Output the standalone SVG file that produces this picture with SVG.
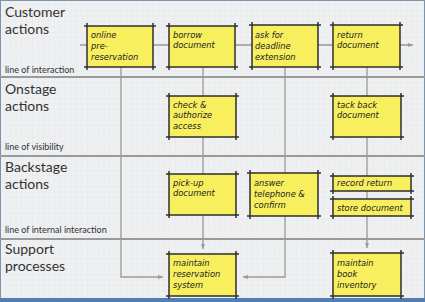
<svg xmlns="http://www.w3.org/2000/svg" width="425" height="302" viewBox="0 0 425 302">
<style>
.lane{font-family:Lato,"Open Sans","Liberation Sans",sans-serif;font-size:14px;fill:#333}
.small{font-family:Lato,"Open Sans","Liberation Sans",sans-serif;font-size:9px;fill:#333}
.sep{stroke:#9a9a9a;stroke-width:2}
.conn{stroke:#9a9a9a;stroke-width:1.3;fill:none}
.box{fill:#f7ef5e;stroke:none}
.edge{stroke:#2f2f2f;stroke-width:1.5;fill:none}
.t{font-family:"DejaVu Sans","Liberation Sans",sans-serif;font-style:italic;font-size:8.3px;fill:#222}
</style>
<defs>
<pattern id="grid" width="5.5" height="5.5" patternUnits="userSpaceOnUse">
<rect width="5.5" height="5.5" fill="#eef0f2"/>
<path d="M5.5 0V5.5M0 5.5H5.5" stroke="#e0e3e7" stroke-width="0.6"/>
</pattern>
<marker id="arr" markerWidth="6" markerHeight="6" refX="5" refY="3" orient="auto" markerUnits="userSpaceOnUse">
<path d="M0 1L5 3L0 5Z" fill="#9a9a9a"/>
</marker>
</defs>
<rect width="425" height="302" fill="url(#grid)"/>
<rect x="0.5" y="0.5" width="424" height="301" fill="none" stroke="#7d93aa" stroke-width="1"/>
<rect x="0" y="298" width="425" height="4" fill="#4f7fb5"/>

<g id="lanes">
<line class="sep" x1="0" y1="77" x2="425" y2="77"/>
<line class="sep" x1="0" y1="156" x2="425" y2="156"/>
<line class="sep" x1="0" y1="239" x2="425" y2="239"/>
<text class="lane" x="5" y="17">Customer</text>
<text class="lane" x="5" y="34">actions</text>
<text class="small" x="5" y="73">line of interaction</text>
<text class="lane" x="5" y="94">Onstage</text>
<text class="lane" x="5" y="111">actions</text>
<text class="small" x="5" y="150">line of visibility</text>
<text class="lane" x="5" y="172">Backstage</text>
<text class="lane" x="5" y="189">actions</text>
<text class="small" x="5" y="233">line of internal interaction</text>
<text class="lane" x="5" y="254">Support</text>
<text class="lane" x="5" y="271">processes</text>
</g>

<g id="connectors">
<line class="conn" x1="80" y1="45" x2="413" y2="45" marker-end="url(#arr)"/>
<path class="conn" d="M121 67V277H163" marker-end="url(#arr)"/>
<path class="conn" d="M203 67V249" marker-end="url(#arr)"/>
<path class="conn" d="M285 67V277H243" marker-end="url(#arr)"/>
<path class="conn" d="M367 67V248" marker-end="url(#arr)"/>
</g>

<g id="online-pre-reservation">
<rect class="box" x="87" y="26" width="66" height="41"/>
<path class="edge" d="M84 26H156M84 67H156M87 23V70M153 23V70"/>
<text class="t" x="91" y="38">online</text>
<text class="t" x="91" y="49">pre-</text>
<text class="t" x="91" y="60">reservation</text>
</g>
<g id="borrow-document">
<rect class="box" x="169" y="26" width="66" height="41"/>
<path class="edge" d="M166 26H238M166 67H238M169 23V70M235 23V70"/>
<text class="t" x="173" y="38">borrow</text>
<text class="t" x="173" y="48">document</text>
</g>
<g id="ask-for-deadline-extension">
<rect class="box" x="252" y="25" width="66" height="42"/>
<path class="edge" d="M249 25H321M249 67H321M252 22V70M318 22V70"/>
<text class="t" x="255" y="38">ask for</text>
<text class="t" x="255" y="49">deadline</text>
<text class="t" x="255" y="60">extension</text>
</g>
<g id="return-document">
<rect class="box" x="333" y="25" width="67" height="42"/>
<path class="edge" d="M330 25H403M330 67H403M333 22V70M400 22V70"/>
<text class="t" x="337" y="38">return</text>
<text class="t" x="337" y="48">document</text>
</g>

<g id="check-authorize-access">
<rect class="box" x="169" y="96" width="67" height="41"/>
<path class="edge" d="M166 96H239M166 137H239M169 93V140M236 93V140"/>
<text class="t" x="173" y="108">check &amp;</text>
<text class="t" x="173" y="118">authorize</text>
<text class="t" x="173" y="129">access</text>
</g>
<g id="take-back-document">
<rect class="box" x="333" y="96" width="68" height="41"/>
<path class="edge" d="M330 96H404M330 137H404M333 93V140M401 93V140"/>
<text class="t" x="337" y="108">tack back</text>
<text class="t" x="337" y="118">document</text>
</g>

<g id="pick-up-document">
<rect class="box" x="169" y="174" width="67" height="41"/>
<path class="edge" d="M166 174H239M166 215H239M169 171V218M236 171V218"/>
<text class="t" x="173" y="186">pick-up</text>
<text class="t" x="173" y="196">document</text>
</g>
<g id="answer-telephone-confirm">
<rect class="box" x="250" y="173" width="68" height="43"/>
<path class="edge" d="M247 173H321M247 216H321M250 170V219M318 170V219"/>
<text class="t" x="254" y="186">answer</text>
<text class="t" x="254" y="197">telephone &amp;</text>
<text class="t" x="254" y="208">confirm</text>
</g>
<g id="record-return">
<rect class="box" x="333" y="176" width="78" height="15"/>
<path class="edge" d="M330 176H414M330 191H414M333 173V194M411 173V194"/>
<text class="t" x="337" y="186">record return</text>
</g>
<g id="store-document">
<rect class="box" x="333" y="199" width="78" height="17"/>
<path class="edge" d="M330 199H414M330 216H414M333 196V219M411 196V219"/>
<text class="t" x="337" y="211">store document</text>
</g>

<g id="maintain-reservation-system">
<rect class="box" x="169" y="254" width="67" height="42"/>
<path class="edge" d="M166 254H239M166 296H239M169 251V299M236 251V299"/>
<text class="t" x="173" y="266">maintain</text>
<text class="t" x="173" y="277">reservation</text>
<text class="t" x="173" y="288">system</text>
</g>
<g id="maintain-book-inventory">
<rect class="box" x="333" y="253" width="68" height="43"/>
<path class="edge" d="M330 253H404M330 296H404M333 250V299M401 250V299"/>
<text class="t" x="337" y="266">maintain</text>
<text class="t" x="337" y="277">book</text>
<text class="t" x="337" y="288">inventory</text>
</g>
</svg>
